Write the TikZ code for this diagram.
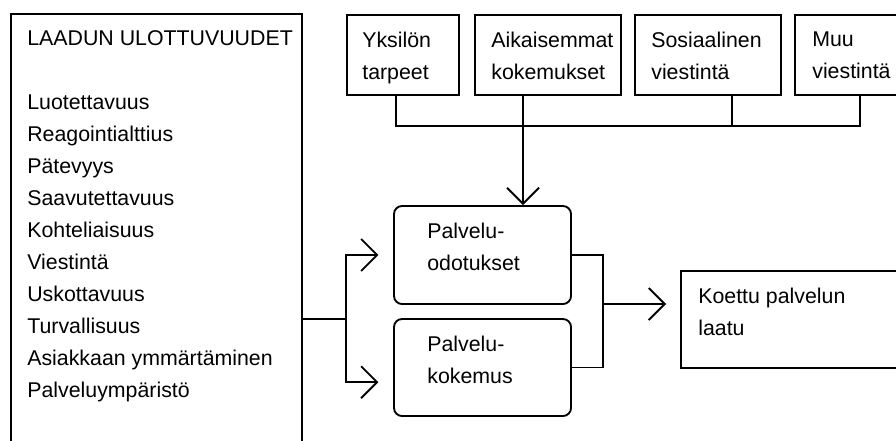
\documentclass[tikz,border=0pt]{standalone}
\usepackage{fontspec}
\setmainfont{Liberation Sans}
\usetikzlibrary{arrows.meta, fit}

\tikzset{
  box/.style={draw, line width=1.4pt, inner sep=0pt},
  rbox/.style={box, rounded corners=6pt},
  txt/.style={anchor=north west, inner sep=0pt, align=left, font=\fontsize{16pt}{24pt}\selectfont},
  conn/.style={line width=1.4pt},
  arr/.style={conn, -{Straight Barb[length=12pt, width=24pt]}}
}

\begin{document}
\begin{tikzpicture}[x=0.75pt, y=-0.75pt]
  \useasboundingbox (0,0) rectangle (896,440);

  % quality dimensions
  \node[box, fit={(11,14) (302,470)}] (dims) {};
  \node[txt] (dimlist) at ([shift={(17,17.5)}]dims.north west) {LAADUN ULOTTUVUUDET\\[24pt]
    Luotettavuus\\Reagointialttius\\Pätevyys\\Saavutettavuus\\Kohteliaisuus\\
    Viestintä\\Uskottavuus\\Turvallisuus\\Asiakkaan ymmärtäminen\\Palveluympäristö};

  % sources of expectations
  \node[box, fit={(347,15) (459,95)}] (needs) {};
  \node[box, fit={(475,15) (621,95)}] (past) {};
  \node[box, fit={(635,15) (781,95)}] (social) {};
  \node[box, fit={(795,15) (950,95)}] (other) {};
  \node[txt] (needst) at ([shift={(16,17.5)}]needs.north west) {Yksilön\\tarpeet};
  \node[txt] (pastt) at ([shift={(17,17.5)}]past.north west) {Aikaisemmat\\kokemukset};
  \node[txt] (socialt) at ([shift={(17,17.5)}]social.north west) {Sosiaalinen\\viestintä};
  \node[txt] (othert) at ([shift={(18,17.5)}]other.north west) {Muu\\viestintä};

  % expectations, experience, perceived quality
  \node[rbox, fit={(394,206) (571,304)}] (expect) {};
  \node[rbox, fit={(394,319) (571,416)}] (exper) {};
  \node[box, fit={(681,271) (950,368)}] (quality) {};
  \node[txt] (expectt) at ([shift={(34,17.5)}]expect.north west) {Palvelu-\\odotukset};
  \node[txt] (expert) at ([shift={(34,17.5)}]exper.north west) {Palvelu-\\kokemus};
  \node[txt] (qualityt) at ([shift={(18,17.5)}]quality.north west) {Koettu palvelun\\laatu};

  % connectors
  \coordinate (j1) at (396,126);
  \coordinate (j2) at (523,126);
  \coordinate (j3) at (732,126);
  \coordinate (j4) at (860,126);
  \draw[conn] (needs.south -| j1) -- (j1) -- (j4) -- (other.south -| j4);
  \draw[conn] (social.south -| j3) -- (j3);
  \draw[arr] (past.south -| j2) -- (expect.north -| j2);

  \coordinate (fork) at (346,319);
  \draw[conn] (dims.east |- fork) -- (fork);
  \draw[arr, shorten >=11pt] (fork) |- (expect.west);
  \draw[arr, shorten >=11pt] (fork) |- ([yshift=-11pt]exper.west);

  \coordinate (join) at (603,304);
  \draw[conn] (expect.east) -| (join) |- (exper.east);
  \draw[arr, shorten >=10.5pt] (join) -- (quality.west |- join);
\end{tikzpicture}
\end{document}
